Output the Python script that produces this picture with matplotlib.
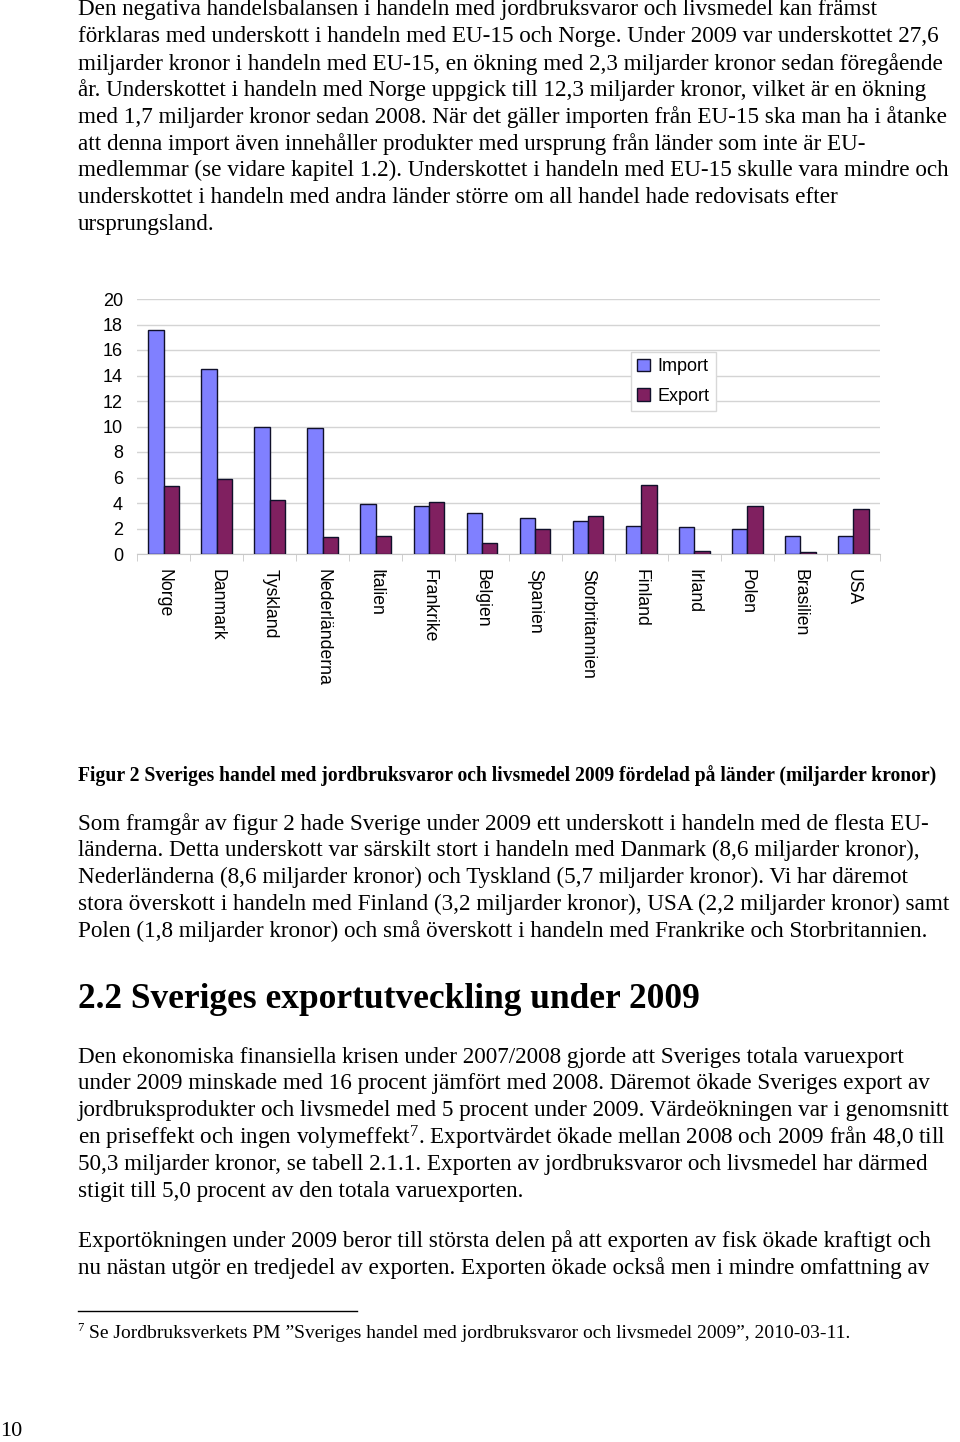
import matplotlib
matplotlib.use("Agg")
import matplotlib.pyplot as plt
import numpy as np

# Chart data (miljarder kronor, 2009)
countries = ["Norge", "Danmark", "Tyskland", "Nederländerna", "Italien", "Frankrike",
             "Belgien", "Spanien", "Storbritannien", "Finland", "Irland", "Polen",
             "Brasilien", "USA"]
import_values = [17.6, 14.5, 10.0, 9.9, 3.9, 3.8, 3.2, 2.85, 2.55, 2.2, 2.1, 1.95, 1.4, 1.4]
export_values = [5.3, 5.85, 4.25, 1.3, 1.4, 4.05, 0.9, 1.95, 3.0, 5.4, 0.25, 3.8, 0.12, 3.55]
yticks = list(range(0, 21, 2))

para1 = [
    "Den negativa handelsbalansen i handeln med jordbruksvaror och livsmedel kan främst",
    "förklaras med underskott i handeln med EU-15 och Norge. Under 2009 var underskottet 27,6",
    "miljarder kronor i handeln med EU-15, en ökning med 2,3 miljarder kronor sedan föregående",
    "år. Underskottet i handeln med Norge uppgick till 12,3 miljarder kronor, vilket är en ökning",
    "med 1,7 miljarder kronor sedan 2008. När det gäller importen från EU-15 ska man ha i åtanke",
    "att denna import även innehåller produkter med ursprung från länder som inte är EU-",
    "medlemmar (se vidare kapitel 1.2). Underskottet i handeln med EU-15 skulle vara mindre och",
    "underskottet i handeln med andra länder större om all handel hade redovisats efter",
    "ursprungsland.",
]
caption = ("Figur 2 Sveriges handel med jordbruksvaror och livsmedel 2009 fördelad på "
           "länder (miljarder kronor)")
para2 = [
    "Som framgår av figur 2 hade Sverige under 2009 ett underskott i handeln med de flesta EU-",
    "länderna. Detta underskott var särskilt stort i handeln med Danmark (8,6 miljarder kronor),",
    "Nederländerna (8,6 miljarder kronor) och Tyskland (5,7 miljarder kronor). Vi har däremot",
    "stora överskott i handeln med Finland (3,2 miljarder kronor), USA (2,2 miljarder kronor) samt",
    "Polen (1,8 miljarder kronor) och små överskott i handeln med Frankrike och Storbritannien.",
]
heading = "2.2 Sveriges exportutveckling under 2009"
para3 = [
    "Den ekonomiska finansiella krisen under 2007/2008 gjorde att Sveriges totala varuexport",
    "under 2009 minskade med 16 procent jämfört med 2008. Däremot ökade Sveriges export av",
    "jordbruksprodukter och livsmedel med 5 procent under 2009. Värdeökningen var i genomsnitt",
    "en priseffekt och ingen volymeffekt$^{7}$. Exportvärdet ökade mellan 2008 och 2009 från 48,0 till",
    "50,3 miljarder kronor, se tabell 2.1.1. Exporten av jordbruksvaror och livsmedel har därmed",
    "stigit till 5,0 procent av den totala varuexporten.",
]
para4 = [
    "Exportökningen under 2009 beror till största delen på att exporten av fisk ökade kraftigt och",
    "nu nästan utgör en tredjedel av exporten. Exporten ökade också men i mindre omfattning av",
]
footnote = "Se Jordbruksverkets PM ”Sveriges handel med jordbruksvaror och livsmedel 2009”, 2010-03-11."

plt.rcParams["mathtext.fontset"] = "custom"
plt.rcParams["mathtext.rm"] = "Liberation Serif"
plt.rcParams["mathtext.it"] = "Liberation Serif"

W, H = 960, 1442
fig = plt.figure(figsize=(W / 100, H / 100), dpi=100)
serif = "Liberation Serif"
sans = "Liberation Sans"


def put(x, y, s, **kw):
    fig.text(x / W, 1 - y / H, s, va="center", ha="left", **kw)


def paragraph(lines, y0, step=26.8, size=16.7):
    for i, line in enumerate(lines):
        put(78, y0 + i * step, line, family=serif, fontsize=size)


paragraph(para1, 10)
put(78, 776, caption, family=serif, fontsize=14.1, fontweight="bold")
paragraph(para2, 824)
put(78, 1000, heading, family=serif, fontsize=25.5, fontweight="bold")
paragraph(para3, 1057)
paragraph(para4, 1241)

# footnote
fig.add_artist(plt.Line2D([78 / W, 357 / W], [1 - 1311 / H, 1 - 1311 / H], color="black", lw=1))
put(77, 1328, "7", family=serif, fontsize=9)
put(89, 1334, footnote, family=serif, fontsize=14)
put(0, 1432, "10", family=serif, fontsize=16)

# bar chart
ax = fig.add_axes([137 / W, 1 - 554 / H, (880 - 137) / W, (554 - 299) / H])
x = np.arange(len(countries))
bw = 0.29
ax.bar(x - bw / 2, import_values, bw, color="#8080ff", edgecolor="#10102a", lw=1, label="Import", zorder=3)
ax.bar(x + bw / 2, export_values, bw, color="#802060", edgecolor="#10102a", lw=1, label="Export", zorder=3)
ax.set_xlim(-0.5, len(countries) - 0.5)
ax.set_ylim(0, 20)
ax.set_yticks(yticks)
ax.set_yticklabels([str(t) for t in yticks], family=sans, fontsize=13)
ax.yaxis.grid(True, color="#d4d4d4", lw=1, zorder=0)
ax.tick_params(axis="y", length=0, pad=10)
ax.set_xticks(x)
ax.set_xticklabels(countries, rotation=-90, family=sans, fontsize=12.7, va="top")
ax.tick_params(axis="x", length=0, pad=11)
ax.set_xticks(np.arange(-0.5, len(countries), 1), minor=True)
ax.tick_params(axis="x", which="minor", length=5, color="#c8c8c8")
for side in ["top", "right", "left"]:
    ax.spines[side].set_visible(False)
ax.spines["bottom"].set_color("#c8c8c8")

leg = ax.legend(loc="upper left", bbox_to_anchor=(0.665, 0.792), borderaxespad=0,
                prop={"family": sans, "size": 13},
                handlelength=0.7, handleheight=0.7, handletextpad=0.4, borderpad=0.35,
                labelspacing=0.7, fancybox=False, framealpha=1, edgecolor="#d8d8d8")
leg.get_frame().set_linewidth(1)

fig.savefig("out.png", dpi=100)
